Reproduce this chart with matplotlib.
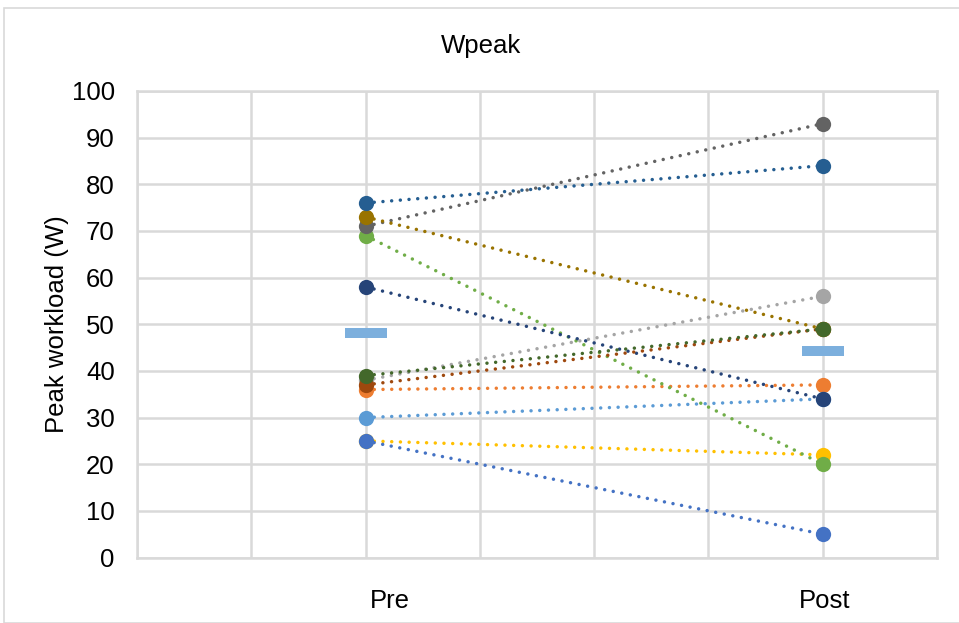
import matplotlib.pyplot as plt
from matplotlib.patches import Rectangle
import numpy as np

plt.rcParams["font.family"] = ["Liberation Sans", "DejaVu Sans"]

categories = ["Pre", "Post"]
x_pos = [2, 6]

# one pre/post pair per subject (later entries are drawn on top)
pre_values = [25, 25, 36, 38, 30, 69, 58, 37, 71, 73, 76, 39]
post_values = [22, 5, 37, 56, 34, 20, 34, 49, 93, 49, 84, 49]
colors = [
    "#FFC000", "#4472C4", "#ED7D31", "#A5A5A5", "#5B9BD5", "#70AD47",
    "#264478", "#9E480E", "#636363", "#997300", "#255E91", "#43682B",
]
mean_color = "#7CAFDD"

y_ticks = list(range(0, 101, 10))

fig = plt.figure(figsize=(9.59, 6.23), dpi=100)
W, H = 959, 623

# outer chart border
fig.patches.append(Rectangle((3.5 / W, 0), 1.0, 1 - 7.5 / H, transform=fig.transFigure,
                             fill=False, edgecolor="#D9D9D9", linewidth=1.2))

ax = fig.add_axes([137 / W, 1 - 557.5 / H, 800 / W, 466.5 / H])

for pre, post, c in zip(pre_values, post_values, colors):
    ax.plot(x_pos, [pre, post], color=c, linestyle=(0, (0.01, 2.5)),
            dash_capstyle="round", linewidth=2.5, marker="o", markersize=11,
            markeredgewidth=0, zorder=3)

means = [np.mean(pre_values), np.mean(post_values)]
dash = [(-2, -0.5), (2, -0.5), (2, 0.5), (-2, 0.5)]
ax.plot(x_pos, means, linestyle="none", marker=dash, markersize=30,
        color=mean_color, markeredgewidth=0, zorder=4)

ax.set_xlim(0, 7)
ax.set_ylim(0, 100)
ax.set_yticks(y_ticks)
ax.set_xticks(range(8))
ax.set_xticklabels([""] * 8)
# category labels sit slightly right of their gridlines, as in the Excel original
ax.set_xticks([x_pos[0] + 0.21, x_pos[1] + 0.02], minor=True)
ax.set_xticklabels(categories, minor=True)
ax.tick_params(axis="both", which="both", length=0, labelsize=18.5)
ax.tick_params(axis="y", pad=16)
ax.tick_params(axis="x", which="minor", pad=23)
ax.grid(True, which="major", color="#D9D9D9", linewidth=1.8, zorder=0)
ax.set_axisbelow(True)
for s in ax.spines.values():
    s.set_color("#D9D9D9")
    s.set_linewidth(1.8)

ax.set_ylabel("Peak workload (W)", fontsize=18.5, labelpad=2)
fig.text(481 / W, 1 - 46 / H, "Wpeak", fontsize=18.5, ha="center", va="center")

fig.savefig("out.png", dpi=100)
